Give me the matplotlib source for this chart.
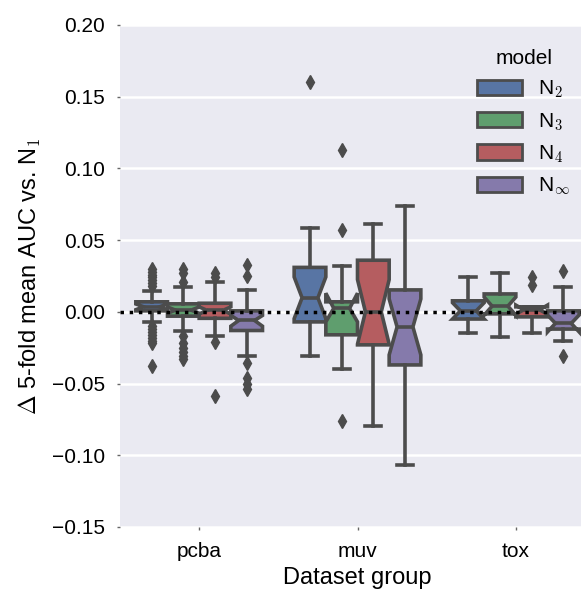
import numpy as np
import matplotlib.pyplot as plt

groups = ["pcba", "muv", "tox"]
models = ["N$_2$", "N$_3$", "N$_4$", "N$_\\infty$"]
colors = ["#5875a4", "#5f9e6e", "#b55d60", "#857aab"]
gray = "#4c4c4c"

# box stats per group (rows) and model (cols)
med = [[0.0035, 0.0012, 0.0010, -0.0060],
       [0.0098, 0.0025, 0.0000, -0.0105],
       [0.0007, 0.0040, 0.0015, -0.0080]]
q1 = [[0.0007, -0.0030, -0.0045, -0.0130],
      [-0.0070, -0.0160, -0.0230, -0.0370],
      [-0.0050, -0.0014, -0.0035, -0.0120]]
q3 = [[0.0070, 0.0056, 0.0060, 0.0007],
      [0.0310, 0.0070, 0.0360, 0.0153],
      [0.0077, 0.0125, 0.0035, 0.0007]]
ci_lo = [[0.0015, -0.0010, -0.0015, -0.0100],
         [-0.0047, -0.0070, -0.0225, -0.0300],
         [-0.0050, -0.0023, -0.0017, -0.0140]]
ci_hi = [[0.0055, 0.0034, 0.0035, -0.0025],
         [0.0243, 0.0130, 0.0225, 0.0090],
         [0.0064, 0.0103, 0.0047, -0.0022]]
whis_lo = [[-0.0070, -0.0130, -0.0167, -0.0310],
           [-0.0310, -0.0400, -0.0795, -0.1070],
           [-0.0147, -0.0174, -0.0147, -0.0200]]
whis_hi = [[0.0146, 0.0170, 0.0210, 0.0155],
           [0.0585, 0.0320, 0.0613, 0.0740],
           [0.0245, 0.0270, 0.0035, 0.0174]]
fliers = [
    [[0.030, 0.028, 0.026, 0.024, 0.022, 0.020, 0.018,
      -0.010, -0.012, -0.014, -0.016, -0.018, -0.020, -0.022, -0.038],
     [0.030, 0.027, 0.021, -0.017, -0.022, -0.025, -0.028, -0.031, -0.033],
     [0.027, 0.024, -0.021, -0.059],
     [0.033, 0.025, -0.036, -0.046, -0.050, -0.054]],
    [[0.160], [0.113, 0.057, -0.076], [], []],
    [[], [], [0.024, 0.019], [0.0286, -0.0307]],
]

plt.rcParams["font.family"] = ["Liberation Sans", "DejaVu Sans"]
plt.rcParams["mathtext.fontset"] = "cm"

fig = plt.figure(figsize=(5.81, 5.96), dpi=100)
ax = fig.add_axes([120/581, 69/596, 475/581, 502/596])
ax.set_facecolor("#eaeaf2")
for s in ax.spines.values():
    s.set_visible(False)
ax.yaxis.grid(True, color="white", lw=1.8)
ax.set_axisbelow(True)

width = 0.2
offsets = [-0.3, -0.1, 0.1, 0.3]
for g in range(len(groups)):
    for m in range(len(models)):
        st = dict(med=med[g][m], q1=q1[g][m], q3=q3[g][m],
                  cilo=ci_lo[g][m], cihi=ci_hi[g][m],
                  whislo=whis_lo[g][m], whishi=whis_hi[g][m],
                  fliers=fliers[g][m])
        ax.bxp([st], positions=[g + offsets[m]], widths=width,
               shownotches=True, patch_artist=True, manage_ticks=False,
               boxprops=dict(facecolor=colors[m], edgecolor=gray, lw=2.6),
               medianprops=dict(color=gray, lw=2.6),
               whiskerprops=dict(color=gray, lw=2.6),
               capprops=dict(color=gray, lw=2.6),
               flierprops=dict(marker="d", markerfacecolor=gray,
                               markeredgecolor=gray, markersize=7))

ax.axhline(0, color="black", ls=":", lw=2.5, zorder=5)

ax.set_xlim(-0.5, 2.5)
ax.set_ylim(-0.15, 0.20)
ax.set_xticks(range(len(groups)))
ax.set_xticklabels(groups)
ax.set_yticks(np.arange(-0.15, 0.201, 0.05))
ax.set_yticklabels([f"{v:.2f}".replace("-", "\u2212") for v in np.arange(-0.15, 0.201, 0.05)])
ax.tick_params(labelsize=15, length=2, width=1, color="#666666", pad=9)
ax.set_xlabel("Dataset group", fontsize=17, labelpad=4)
ax.set_ylabel("$\\Delta$ 5-fold mean AUC vs. N$_1$", fontsize=17, labelpad=6)

handles = [plt.Rectangle((0, 0), 1, 1, facecolor=c, edgecolor=gray, lw=2) for c in colors]
leg = ax.legend(handles, models, title="model", loc="upper right", frameon=False,
                bbox_to_anchor=(589/581, 566/596), bbox_transform=fig.transFigure,
                fontsize=15, title_fontsize=15, handlelength=2.15, handleheight=0.75,
                labelspacing=0.52, handletextpad=0.8)

fig.savefig("out.png", dpi=100)
